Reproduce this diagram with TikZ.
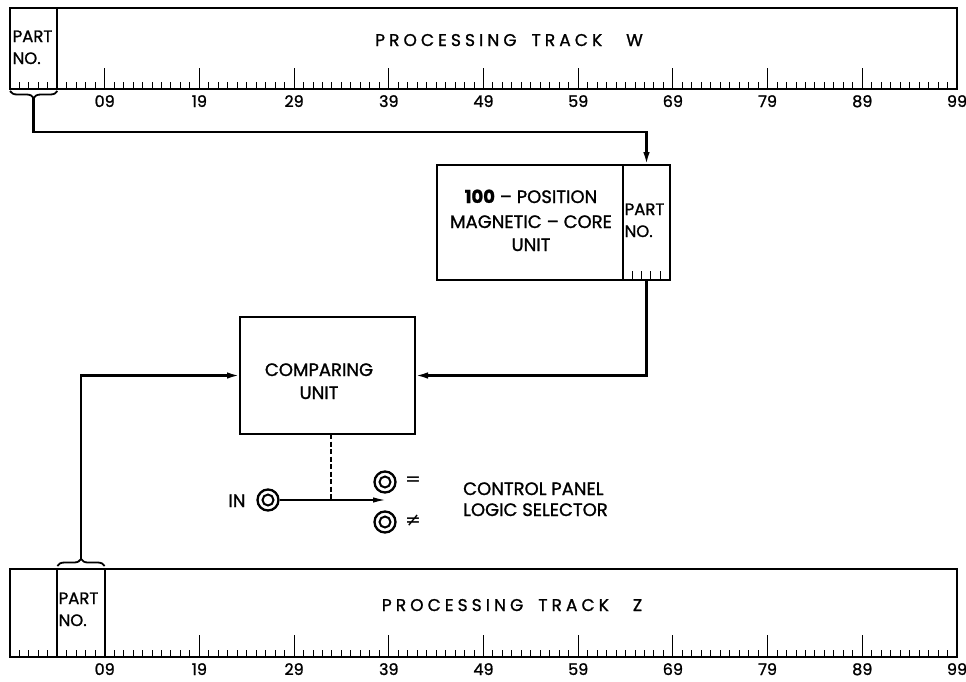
\documentclass[tikz,border=0pt]{standalone}
\usepackage{fontspec}
\setmainfont{Poppins}[FakeBold=1.2]
\newfontfamily\spaced{Poppins}[LetterSpace=24,FakeBold=1.2]
\newfontfamily\dejavu{DejaVu Sans}
\usetikzlibrary{arrows.meta,decorations.pathreplacing}
\begin{document}
\begin{tikzpicture}[x=1pt,y=-1pt,
  box/.style={draw, line width=1.8pt, inner sep=0pt, outer sep=0pt},
  ubox/.style={draw, line width=2.2pt, inner sep=0pt, outer sep=0pt},
  tickln/.style={line width=1pt},
  conn/.style={line width=2.4pt},
  arr/.style={-{Latex[length=13pt,width=6.5pt]}},
  txt/.style={font=\fontsize{18}{18}\selectfont, inner sep=0pt},
  ptxt/.style={font=\fontsize{16.5}{16.5}\selectfont, inner sep=0pt, anchor=base west},
  numl/.style={font=\fontsize{16}{16}\selectfont, inner sep=0pt, anchor=base},
  trk/.style={font=\spaced\fontsize{17}{17}\selectfont, inner sep=0pt, anchor=base},
  ring/.style={circle, draw, line width=2.3pt, minimum size=21pt, inner sep=0pt},
  ringin/.style={circle, draw, line width=2pt, minimum size=11pt, inner sep=0pt},
  bracedec/.style={decorate, decoration={brace, amplitude=7pt}, line width=1.8pt}
]
\useasboundingbox (0,0) rectangle (966,681);
\fill[white] (0,0) rectangle (966,681);

% ---------- Track W ----------
\node[box, minimum width=947pt, minimum height=81pt] (W) at (483.5,48.5) {};
\node[box, minimum width=47.35pt, minimum height=81pt] (wpart) at (33.67,48.5) {};
\node[ptxt] (wpt) at (12.5,42) {PART};
\node[ptxt] (wno) at (12.5,64) {NO.};
\node[trk] (wtitle) at (509,46) {PROCESSING\hspace{15pt}TRACK\hspace{24pt}W};
\foreach \k in {1,...,99}{
  \pgfmathtruncatemacro\m{mod(\k,10)}
  \ifnum\m=0
    \draw[tickln] (10+\k*9.47,89) -- ++(0,-21);
  \else
    \draw[tickln] (10+\k*9.47,89) -- ++(0,-7);
  \fi
}
\foreach \k/\l in {10/09,20/19,30/29,40/39,50/49,60/59,70/69,80/79,90/89,100/99}{
  \node[numl] (wl\k) at (10+\k*9.47,107) {\l};
}

% ---------- Track Z ----------
\node[box, minimum width=947pt, minimum height=88pt] (Z) at (483.5,613) {};
\node[box, minimum width=47.35pt, minimum height=88pt] (zpart) at (81.02,613) {};
\node[ptxt] (zpt) at (58.5,604) {PART};
\node[ptxt] (zno) at (58.5,626) {NO.};
\node[trk] (ztitle) at (512,611) {PROCESSING\hspace{15pt}TRACK\hspace{24pt}Z};
\foreach \k in {1,...,99}{
  \pgfmathtruncatemacro\m{mod(\k,10)}
  \ifnum\m=0
    \draw[tickln] (10+\k*9.47,657) -- ++(0,-22);
  \else
    \draw[tickln] (10+\k*9.47,657) -- ++(0,-7);
  \fi
}
\foreach \k/\l in {10/09,20/19,30/29,40/39,50/49,60/59,70/69,80/79,90/89,100/99}{
  \node[numl] (zl\k) at (10+\k*9.47,675) {\l};
}

% ---------- Magnetic core unit ----------
\node[ubox, minimum width=186pt, minimum height=115pt] (mag) at (530,222.5) {};
\node[ubox, minimum width=47pt, minimum height=115pt] (magpart) at (646.5,222.5) {};
\node[txt, anchor=base] (m1) at (531,203) {\textbf{100} – POSITION};
\node[txt, anchor=base] (m2) at (531,228) {MAGNETIC\hspace{5pt}– CORE};
\node[txt, anchor=base] (m3) at (531,251) {UNIT};
\node[ptxt] (mpt) at (624.5,215) {PART};
\node[ptxt] (mno) at (624.5,237) {NO.};
\foreach \xx in {632,641,650,660}{
  \draw[tickln] (\xx,280) -- ++(0,-9);
}

% ---------- Comparing unit ----------
\node[ubox, minimum width=175pt, minimum height=117pt] (cmp) at (327.5,375.5) {};
\node[txt, anchor=base] (c1) at (319,376) {COMPARING};
\node[txt, anchor=base] (c2) at (319,399) {UNIT};

% ---------- Braces and connectors ----------
\draw[bracedec, decoration={mirror}] (10,91) -- (57.35,91);
\draw[bracedec] (57.35,566) -- (104.7,566);
\coordinate (bw) at (33.67,98);
\coordinate (bz) at (81,559);
\coordinate (wy) at (0,132);
\draw[conn,arr] (bw) |- (magpart.north |- wy) -- (magpart.north);
\draw[conn,arr] (magpart.south) |- (cmp.east);
\draw[conn,arr] (bz) |- (cmp.west);

% ---------- Logic selector ----------
\node[ring] (inj) at (268,500) {};
\node[ringin] (inj2) at (268,500) {};
\node[ring] (eqj) at (385,482) {};
\node[ringin] (eqj2) at (385,482) {};
\node[ring] (nej) at (385,522) {};
\node[ringin] (nej2) at (385,522) {};
\node[font=\dejavu\fontsize{19}{19}\selectfont, inner sep=0pt] (eqs) at (413,481) {=};
\node[font=\dejavu\fontsize{19}{19}\selectfont, inner sep=0pt] (nes) at (413,521) {≠};
\node[txt, anchor=base] (inl) at (237,507) {IN};
\coordinate (aend) at (385,500);
\draw[line width=1.2pt, -{Latex[length=12pt,width=5.5pt]}] (inj.east) -- (aend);
\coordinate (dsh) at (331,500);
\draw[line width=1.1pt, dashed, dash pattern=on 5pt off 2.5pt] (cmp.south -| dsh) -- (dsh);
\node[txt, anchor=base west] (cp1) at (463,495) {CONTROL PANEL};
\node[txt, anchor=base west] (cp2) at (463,516) {LOGIC SELECTOR};
\end{tikzpicture}
\end{document}
